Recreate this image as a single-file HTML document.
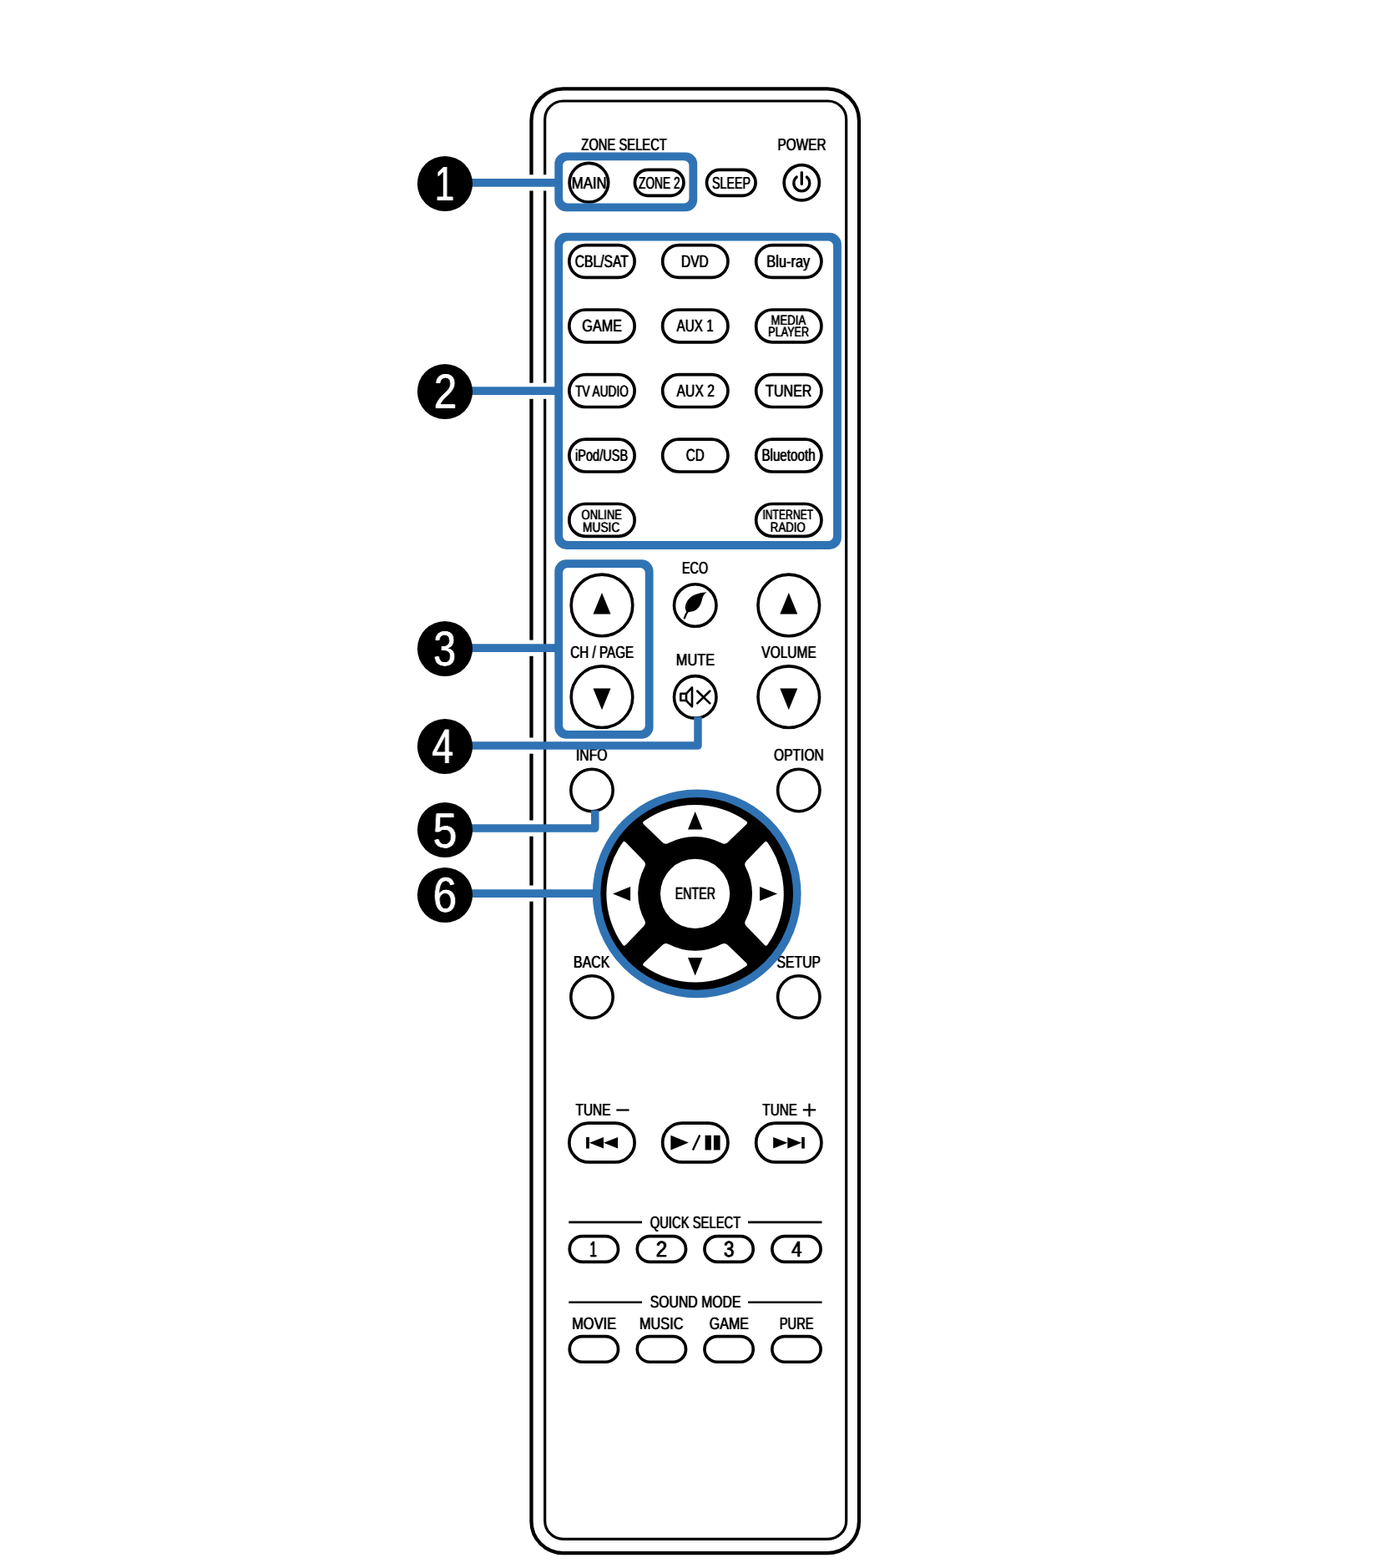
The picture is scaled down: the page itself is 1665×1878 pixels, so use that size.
<!DOCTYPE html>
<html lang="en">
<head>
<meta charset="utf-8">
<title>Remote control unit</title>
<style>
html,body{margin:0;padding:0;background:#fff;}
body{width:1665px;height:1878px;overflow:hidden;}
svg{display:block;}
svg text{font-family:"Liberation Sans",sans-serif;white-space:pre;text-rendering:geometricPrecision;}
</style>
</head>
<body>
<svg width="1665" height="1878" viewBox="0 0 1665 1878">
<defs><filter id="bd" filterUnits="userSpaceOnUse" x="0" y="0" width="1665" height="1878" color-interpolation-filters="sRGB"><feConvolveMatrix order="3 1" kernelMatrix="0.3 1 0.3" divisor="1" edgeMode="none"/></filter><filter id="gs" filterUnits="userSpaceOnUse" x="0" y="0" width="1665" height="1878" color-interpolation-filters="sRGB"><feOffset dx="0" dy="0"/></filter></defs>
<rect width="1665" height="1878" fill="#fff"/>
<rect x="636.5" y="106.3" width="392.5" height="1753.9" rx="38" fill="#fff" stroke="#000" stroke-width="4.3"/>
<rect x="652.7" y="121" width="361" height="1722.4" rx="22" fill="#fff" stroke="#000" stroke-width="3.2"/>
<rect x="560" y="209.30" width="100" height="19.2" fill="#fff"/>
<rect x="560" y="458.60" width="100" height="19.2" fill="#fff"/>
<rect x="560" y="766.60" width="86" height="19.2" fill="#fff"/>
<rect x="560" y="883.50" width="86" height="19.2" fill="#fff"/>
<rect x="560" y="982.50" width="86" height="19.2" fill="#fff"/>
<rect x="560" y="1060.50" width="86" height="19.2" fill="#fff"/>
<circle cx="705.40" cy="218.70" r="23.30" fill="#fff" stroke="#000" stroke-width="3.6"/>
<rect x="760.40" y="203.30" width="58.60" height="31.00" rx="15.50" fill="#fff" stroke="#000" stroke-width="3.7"/>
<rect x="846.50" y="203.30" width="58.60" height="31.00" rx="15.50" fill="#fff" stroke="#000" stroke-width="3.7"/>
<circle cx="960.30" cy="218.80" r="21.10" fill="#fff" stroke="#000" stroke-width="3.7"/>
<g fill="none" stroke="#000" stroke-width="3.3" stroke-linecap="round"><path d="M954.2 212.0 A9.5 9.5 0 1 0 966.4 212.0"/><line x1="960.3" y1="206.6" x2="960.3" y2="220.4"/></g>
<rect x="681.85" y="293.60" width="78.30" height="38.80" rx="19.40" fill="#fff" stroke="#000" stroke-width="3.7"/>
<rect x="793.65" y="293.60" width="78.30" height="38.80" rx="19.40" fill="#fff" stroke="#000" stroke-width="3.7"/>
<rect x="905.65" y="293.60" width="78.30" height="38.80" rx="19.40" fill="#fff" stroke="#000" stroke-width="3.7"/>
<rect x="681.85" y="371.00" width="78.30" height="38.80" rx="19.40" fill="#fff" stroke="#000" stroke-width="3.7"/>
<rect x="793.65" y="371.00" width="78.30" height="38.80" rx="19.40" fill="#fff" stroke="#000" stroke-width="3.7"/>
<rect x="905.65" y="371.00" width="78.30" height="38.80" rx="19.40" fill="#fff" stroke="#000" stroke-width="3.7"/>
<rect x="681.85" y="448.70" width="78.30" height="38.80" rx="19.40" fill="#fff" stroke="#000" stroke-width="3.7"/>
<rect x="793.65" y="448.70" width="78.30" height="38.80" rx="19.40" fill="#fff" stroke="#000" stroke-width="3.7"/>
<rect x="905.65" y="448.70" width="78.30" height="38.80" rx="19.40" fill="#fff" stroke="#000" stroke-width="3.7"/>
<rect x="681.85" y="526.20" width="78.30" height="38.80" rx="19.40" fill="#fff" stroke="#000" stroke-width="3.7"/>
<rect x="793.65" y="526.20" width="78.30" height="38.80" rx="19.40" fill="#fff" stroke="#000" stroke-width="3.7"/>
<rect x="905.65" y="526.20" width="78.30" height="38.80" rx="19.40" fill="#fff" stroke="#000" stroke-width="3.7"/>
<rect x="681.85" y="603.50" width="78.30" height="38.80" rx="19.40" fill="#fff" stroke="#000" stroke-width="3.7"/>
<rect x="905.65" y="603.50" width="78.30" height="38.80" rx="19.40" fill="#fff" stroke="#000" stroke-width="3.7"/>
<circle cx="721.00" cy="724.90" r="36.80" fill="#fff" stroke="#000" stroke-width="3.6"/>
<polygon points="721.00,710.00 731.50,735.60 710.50,735.60" fill="#000"/>
<circle cx="721.00" cy="834.70" r="36.80" fill="#fff" stroke="#000" stroke-width="3.6"/>
<polygon points="710.50,824.40 731.50,824.40 721.00,850.30" fill="#000"/>
<circle cx="944.80" cy="724.90" r="36.80" fill="#fff" stroke="#000" stroke-width="3.6"/>
<polygon points="944.80,710.00 955.30,735.60 934.30,735.60" fill="#000"/>
<circle cx="944.80" cy="834.70" r="36.80" fill="#fff" stroke="#000" stroke-width="3.6"/>
<polygon points="934.30,824.40 955.30,824.40 944.80,850.30" fill="#000"/>
<circle cx="832.75" cy="725.00" r="25.25" fill="#fff" stroke="#000" stroke-width="3.6"/>
<circle cx="832.75" cy="834.90" r="25.25" fill="#fff" stroke="#000" stroke-width="3.6"/>
<path d="M846.6 709.2 C841 709.3 831 711.5 826.4 715.9 C822.5 719.5 820.3 725 821 729 C821.3 730.8 821.8 731.8 822.4 732.7 C825 733.3 830 733 834.1 730.3 C838 727.5 839.8 723 840.8 718.8 C841.8 714.5 843 711.5 846.6 709.2 Z" fill="#000"/>
<path d="M824.6 731.2 Q821.5 735.5 819.9 740.3" fill="none" stroke="#000" stroke-width="2.3" stroke-linecap="round"/>
<g fill="none" stroke="#000" stroke-width="2.6" stroke-linejoin="round" stroke-linecap="round"><path d="M815.3 830.8 H822.0 L829.0 823.4 V846.3 L822.0 839.0 H815.3 Z"/><line x1="822.0" y1="830.8" x2="822.0" y2="839.0"/><path d="M835.3 827.8 L850.3 842.4 M850.3 827.8 L835.3 842.4" stroke-width="2.7"/></g>
<circle cx="709.00" cy="946.50" r="25.20" fill="#fff" stroke="#000" stroke-width="3.6"/>
<circle cx="956.80" cy="946.50" r="25.20" fill="#fff" stroke="#000" stroke-width="3.6"/>
<circle cx="709.00" cy="1194.00" r="25.20" fill="#fff" stroke="#000" stroke-width="3.6"/>
<circle cx="956.80" cy="1194.00" r="25.20" fill="#fff" stroke="#000" stroke-width="3.6"/>
<circle cx="832.6" cy="1070.3" r="118" fill="#000"/>
<path d="M-61.31 -86.72 A106.2 106.2 0 0 1 61.31 -86.72 Q63.57 -85.07 61.56 -83.13 L39.04 -61.41 Q35.80 -58.28 31.89 -60.51 A68.4 68.4 0 0 0 -31.89 -60.51 Q-35.80 -58.28 -39.04 -61.41 L-61.56 -83.13 Q-63.57 -85.07 -61.31 -86.72 Z" transform="translate(832.6 1070.3) rotate(0)" fill="#fff"/>
<path d="M-61.31 -86.72 A106.2 106.2 0 0 1 61.31 -86.72 Q63.57 -85.07 61.56 -83.13 L39.04 -61.41 Q35.80 -58.28 31.89 -60.51 A68.4 68.4 0 0 0 -31.89 -60.51 Q-35.80 -58.28 -39.04 -61.41 L-61.56 -83.13 Q-63.57 -85.07 -61.31 -86.72 Z" transform="translate(832.6 1070.3) rotate(90)" fill="#fff"/>
<path d="M-61.31 -86.72 A106.2 106.2 0 0 1 61.31 -86.72 Q63.57 -85.07 61.56 -83.13 L39.04 -61.41 Q35.80 -58.28 31.89 -60.51 A68.4 68.4 0 0 0 -31.89 -60.51 Q-35.80 -58.28 -39.04 -61.41 L-61.56 -83.13 Q-63.57 -85.07 -61.31 -86.72 Z" transform="translate(832.6 1070.3) rotate(180)" fill="#fff"/>
<path d="M-61.31 -86.72 A106.2 106.2 0 0 1 61.31 -86.72 Q63.57 -85.07 61.56 -83.13 L39.04 -61.41 Q35.80 -58.28 31.89 -60.51 A68.4 68.4 0 0 0 -31.89 -60.51 Q-35.80 -58.28 -39.04 -61.41 L-61.56 -83.13 Q-63.57 -85.07 -61.31 -86.72 Z" transform="translate(832.6 1070.3) rotate(270)" fill="#fff"/>
<circle cx="832.6" cy="1070.3" r="41.6" fill="#fff"/>
<polygon points="832.70,971.90 841.40,993.50 824.00,993.50" fill="#000"/>
<polygon points="824.00,1147.00 841.40,1147.00 832.70,1168.50" fill="#000"/>
<polygon points="734.00,1070.50 755.10,1061.90 755.10,1079.10" fill="#000"/>
<polygon points="931.10,1070.50 910.00,1061.90 910.00,1079.10" fill="#000"/>
<g filter="url(#gs)"><text x="736.76" y="1339.8" font-size="31.5" fill="#000">−</text></g>
<g filter="url(#gs)"><text x="960.35" y="1340.3" font-size="31.7" fill="#000">+</text></g>
<rect x="681.85" y="1345.05" width="78.30" height="46.90" rx="23.45" fill="#fff" stroke="#000" stroke-width="3.7"/>
<rect x="793.65" y="1345.05" width="78.30" height="46.90" rx="23.45" fill="#fff" stroke="#000" stroke-width="3.7"/>
<rect x="905.65" y="1345.05" width="78.30" height="46.90" rx="23.45" fill="#fff" stroke="#000" stroke-width="3.7"/>
<rect x="702.1" y="1362.0" width="3.8" height="13.6" fill="#000"/>
<polygon points="705.90,1368.80 723.00,1362.00 723.00,1375.60" fill="#000"/>
<polygon points="723.00,1368.80 740.10,1362.00 740.10,1375.60" fill="#000"/>
<rect x="960.2" y="1362.0" width="3.6" height="13.6" fill="#000"/>
<polygon points="926.20,1362.00 943.30,1368.80 926.20,1375.60" fill="#000"/>
<polygon points="943.30,1362.00 960.20,1368.80 943.30,1375.60" fill="#000"/>
<polygon points="803.40,1359.80 824.90,1368.60 803.40,1377.40" fill="#000"/>
<line x1="829.9" y1="1377.6" x2="838.3" y2="1359.6" stroke="#000" stroke-width="2.4"/>
<rect x="844.6" y="1359.8" width="7.3" height="17.6" fill="#000"/>
<rect x="854.9" y="1359.8" width="7.7" height="17.6" fill="#000"/>
<path d="M681.3 1463.9 H769 M896.1 1463.9 H984.5" stroke="#000" stroke-width="2.6" fill="none"/>
<rect x="682.25" y="1480.65" width="58.30" height="30.70" rx="15.35" fill="#fff" stroke="#000" stroke-width="3.7"/>
<rect x="763.25" y="1480.65" width="58.30" height="30.70" rx="15.35" fill="#fff" stroke="#000" stroke-width="3.7"/>
<rect x="843.95" y="1480.65" width="58.30" height="30.70" rx="15.35" fill="#fff" stroke="#000" stroke-width="3.7"/>
<rect x="924.85" y="1480.65" width="58.30" height="30.70" rx="15.35" fill="#fff" stroke="#000" stroke-width="3.7"/>
<path d="M681.3 1559.7 H769 M896.1 1559.7 H984.5" stroke="#000" stroke-width="2.6" fill="none"/>
<rect x="682.25" y="1600.55" width="58.30" height="30.70" rx="15.35" fill="#fff" stroke="#000" stroke-width="3.7"/>
<rect x="763.25" y="1600.55" width="58.30" height="30.70" rx="15.35" fill="#fff" stroke="#000" stroke-width="3.7"/>
<rect x="843.95" y="1600.55" width="58.30" height="30.70" rx="15.35" fill="#fff" stroke="#000" stroke-width="3.7"/>
<rect x="924.85" y="1600.55" width="58.30" height="30.70" rx="15.35" fill="#fff" stroke="#000" stroke-width="3.7"/>
<g filter="url(#bd)"><text transform="translate(696.37 179.60) scale(0.7202 1)" font-size="20.49" fill="#000">ZONE SELECT</text>
<text transform="translate(931.59 179.60) scale(0.7478 1)" font-size="20.49" fill="#000">POWER</text>
<text transform="translate(684.77 225.80) scale(0.8229 1)" font-size="20.35" fill="#000">MAIN</text>
<text transform="translate(765.10 225.80) scale(0.6729 1)" font-size="20.35" fill="#000">ZONE 2</text>
<text transform="translate(853.01 225.80) scale(0.7024 1)" font-size="20.35" fill="#000">SLEEP</text>
<text transform="translate(688.67 320.00) scale(0.7605 1)" font-size="20.64" fill="#000">CBL/SAT</text>
<text transform="translate(815.96 320.00) scale(0.7552 1)" font-size="20.64" fill="#000">DVD</text>
<text transform="translate(918.30 320.00) scale(0.7953 1)" font-size="20.64" fill="#000">Blu-ray</text>
<text transform="translate(697.34 396.80) scale(0.7864 1)" font-size="20.64" fill="#000">GAME</text>
<text transform="translate(810.61 396.80) scale(0.7404 1)" font-size="20.64" fill="#000">AUX 1</text>
<text transform="translate(923.57 388.50) scale(0.7929 1)" font-size="16.57" fill="#000">MEDIA</text>
<text transform="translate(920.31 403.30) scale(0.7595 1)" font-size="16.57" fill="#000">PLAYER</text>
<text transform="translate(689.14 475.20) scale(0.7108 1)" font-size="19.19" fill="#000">TV AUDIO</text>
<text transform="translate(810.61 475.20) scale(0.7598 1)" font-size="20.64" fill="#000">AUX 2</text>
<text transform="translate(917.09 475.20) scale(0.7795 1)" font-size="20.64" fill="#000">TUNER</text>
<text transform="translate(689.07 551.70) scale(0.7369 1)" font-size="19.77" fill="#000">iPod/USB</text>
<text transform="translate(821.69 551.70) scale(0.7407 1)" font-size="20.64" fill="#000">CD</text>
<text transform="translate(912.39 551.70) scale(0.7374 1)" font-size="20.64" fill="#000">Bluetooth</text>
<text transform="translate(696.53 621.80) scale(0.7853 1)" font-size="16.57" fill="#000">ONLINE</text>
<text transform="translate(698.12 636.60) scale(0.8287 1)" font-size="16.57" fill="#000">MUSIC</text>
<text transform="translate(913.43 621.80) scale(0.7338 1)" font-size="16.57" fill="#000">INTERNET</text>
<text transform="translate(922.86 636.60) scale(0.7967 1)" font-size="16.57" fill="#000">RADIO</text>
<text transform="translate(683.19 787.80) scale(0.7507 1)" font-size="20.35" fill="#000">CH / PAGE</text>
<text transform="translate(912.27 787.80) scale(0.7639 1)" font-size="20.35" fill="#000">VOLUME</text>
<text transform="translate(816.96 687.00) scale(0.7067 1)" font-size="20.35" fill="#000">ECO</text>
<text transform="translate(809.69 797.00) scale(0.8077 1)" font-size="20.35" fill="#000">MUTE</text>
<text transform="translate(689.89 911.10) scale(0.7740 1)" font-size="20.35" fill="#000">INFO</text>
<text transform="translate(927.01 911.10) scale(0.7667 1)" font-size="20.35" fill="#000">OPTION</text>
<text transform="translate(687.04 1158.90) scale(0.7818 1)" font-size="20.35" fill="#000">BACK</text>
<text transform="translate(930.54 1158.90) scale(0.7741 1)" font-size="20.35" fill="#000">SETUP</text>
<text transform="translate(808.78 1077.30) scale(0.6881 1)" font-size="20.64" fill="#000">ENTER</text>
<text transform="translate(689.50 1336.40) scale(0.7582 1)" font-size="20.35" fill="#000">TUNE</text>
<text transform="translate(913.31 1336.40) scale(0.7508 1)" font-size="20.35" fill="#000">TUNE</text>
<text transform="translate(778.65 1470.70) scale(0.7278 1)" font-size="20.35" fill="#000">QUICK SELECT</text>
<text transform="translate(706.45 1505.30) scale(0.5709 1)" font-size="26.16" fill="#000" stroke="#000" stroke-width="0.3" stroke-linejoin="round">1</text>
<text transform="translate(785.87 1505.30) scale(0.9207 1)" font-size="26.16" fill="#000" stroke="#000" stroke-width="0.3" stroke-linejoin="round">2</text>
<text transform="translate(866.93 1505.30) scale(0.8578 1)" font-size="26.16" fill="#000" stroke="#000" stroke-width="0.3" stroke-linejoin="round">3</text>
<text transform="translate(948.18 1505.30) scale(0.8295 1)" font-size="26.16" fill="#000" stroke="#000" stroke-width="0.3" stroke-linejoin="round">4</text>
<text transform="translate(778.64 1566.30) scale(0.7773 1)" font-size="20.35" fill="#000">SOUND MODE</text>
<text transform="translate(685.19 1592.40) scale(0.8075 1)" font-size="20.35" fill="#000">MOVIE</text>
<text transform="translate(765.90 1592.40) scale(0.8015 1)" font-size="20.35" fill="#000">MUSIC</text>
<text transform="translate(849.75 1592.40) scale(0.7890 1)" font-size="20.35" fill="#000">GAME</text>
<text transform="translate(933.74 1592.40) scale(0.7219 1)" font-size="20.35" fill="#000">PURE</text></g>
<path d="M560 218.9 H669" fill="none" stroke="#3073b4" stroke-width="9.8" stroke-linejoin="round"/>
<path d="M560 468.2 H669" fill="none" stroke="#3073b4" stroke-width="9.8" stroke-linejoin="round"/>
<path d="M560 776.2 H669" fill="none" stroke="#3073b4" stroke-width="9.8" stroke-linejoin="round"/>
<path d="M560 893.1 H836.0 V858.6" fill="none" stroke="#3073b4" stroke-width="9.5" stroke-linejoin="round"/>
<path d="M560 992.1 H712.8 V970.4" fill="none" stroke="#3073b4" stroke-width="9.5" stroke-linejoin="round"/>
<path d="M560 1070.1 H716" fill="none" stroke="#3073b4" stroke-width="9.8" stroke-linejoin="round"/>
<path d="M678.30 182.40 H821.20 A14 14 0 0 1 835.20 196.40 V239.30 A14 14 0 0 1 821.20 253.30 H678.30 A14 14 0 0 1 664.30 239.30 V196.40 A14 14 0 0 1 678.30 182.40 Z M680.10 192.20 H819.40 A6 6 0 0 1 825.40 198.20 V237.50 A6 6 0 0 1 819.40 243.50 H680.10 A6 6 0 0 1 674.10 237.50 V198.20 A6 6 0 0 1 680.10 192.20 Z" fill="#3073b4" fill-rule="evenodd"/>
<path d="M678.30 278.80 H993.90 A14 14 0 0 1 1007.90 292.80 V643.90 A14 14 0 0 1 993.90 657.90 H678.30 A14 14 0 0 1 664.30 643.90 V292.80 A14 14 0 0 1 678.30 278.80 Z M680.10 288.60 H992.10 A6 6 0 0 1 998.10 294.60 V642.10 A6 6 0 0 1 992.10 648.10 H680.10 A6 6 0 0 1 674.10 642.10 V294.60 A6 6 0 0 1 680.10 288.60 Z" fill="#3073b4" fill-rule="evenodd"/>
<path d="M678.30 670.30 H768.60 A14 14 0 0 1 782.60 684.30 V870.80 A14 14 0 0 1 768.60 884.80 H678.30 A14 14 0 0 1 664.30 870.80 V684.30 A14 14 0 0 1 678.30 670.30 Z M680.10 680.10 H766.80 A6 6 0 0 1 772.80 686.10 V869.00 A6 6 0 0 1 766.80 875.00 H680.10 A6 6 0 0 1 674.10 869.00 V686.10 A6 6 0 0 1 680.10 680.10 Z" fill="#3073b4" fill-rule="evenodd"/>
<circle cx="834.7" cy="1070.4" r="120.1" fill="none" stroke="#3073b4" stroke-width="9.6"/>
<circle cx="533" cy="220" r="33.1" fill="#000"/>
<circle cx="533" cy="469" r="33.1" fill="#000"/>
<circle cx="533" cy="777" r="33.1" fill="#000"/>
<circle cx="533" cy="894" r="33.1" fill="#000"/>
<circle cx="533" cy="994" r="33.1" fill="#000"/>
<circle cx="533" cy="1072" r="33.1" fill="#000"/>
<g filter="url(#bd)"><text transform="translate(520.68 240.00) scale(0.7260 1)" font-size="58.28" fill="#fff">1</text>
<text transform="translate(519.68 489.00) scale(0.8421 1)" font-size="58.72" fill="#fff">2</text>
<text transform="translate(519.23 797.40) scale(0.8246 1)" font-size="58.72" fill="#fff">3</text>
<text transform="translate(517.41 914.00) scale(0.7896 1)" font-size="58.43" fill="#fff">4</text>
<text transform="translate(518.56 1014.60) scale(0.8891 1)" font-size="58.72" fill="#fff">5</text>
<text transform="translate(518.70 1092.40) scale(0.8647 1)" font-size="59.01" fill="#fff">6</text></g>
</svg>
</body>
</html>
